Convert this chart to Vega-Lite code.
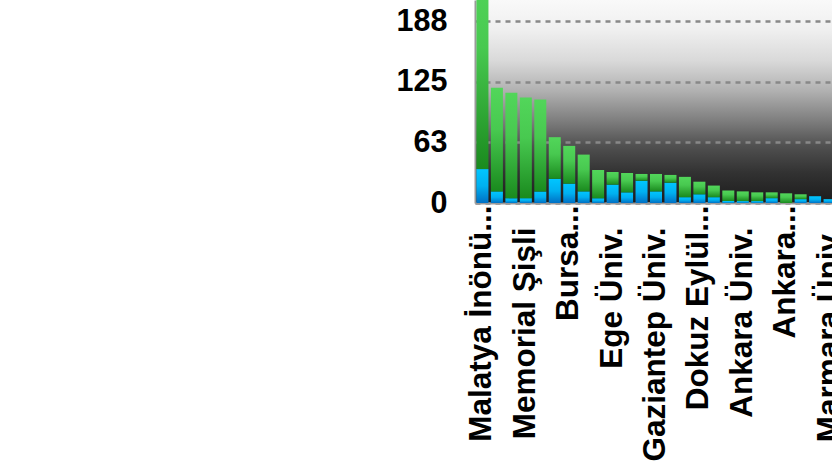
{
  "$schema": "https://vega.github.io/schema/vega-lite/v6.json",
  "autosize": "none",
  "width": 357,
  "height": 203,
  "padding": {"left": 475, "top": 0, "right": 0, "bottom": 273},
  "background": "white",
  "config": {
    "font": "Liberation Sans",
    "view": {
      "stroke": null,
      "fill": {
        "gradient": "linear", "x1": 0, "y1": 0, "x2": 0, "y2": 1,
        "stops": [
          {"offset": 0, "color": "#f9f9f9"},
          {"offset": 0.15, "color": "#efefef"},
          {"offset": 0.3, "color": "#d9d9d9"},
          {"offset": 0.45, "color": "#b0b0b0"},
          {"offset": 0.6, "color": "#7c7c7c"},
          {"offset": 0.72, "color": "#505050"},
          {"offset": 0.85, "color": "#323232"},
          {"offset": 1, "color": "#1c1c1c"}
        ]
      }
    }
  },
  "data": {
    "values": [
      {"name": "Malatya İnönü...", "blue": 35, "total": 245},
      {"name": "Hastane 2", "blue": 12, "total": 119},
      {"name": "Hastane 3", "blue": 5, "total": 114},
      {"name": "Memorial Şişli", "blue": 5, "total": 109},
      {"name": "Hastane 5", "blue": 12, "total": 107},
      {"name": "Hastane 6", "blue": 25, "total": 68},
      {"name": "Bursa...", "blue": 20, "total": 59},
      {"name": "Hastane 8", "blue": 12, "total": 50},
      {"name": "Hastane 9", "blue": 5, "total": 34},
      {"name": "Ege Üniv.", "blue": 19, "total": 32},
      {"name": "Hastane 11", "blue": 11, "total": 31},
      {"name": "Hastane 12", "blue": 23, "total": 30},
      {"name": "Gaziantep Üniv.", "blue": 12, "total": 30},
      {"name": "Hastane 14", "blue": 21, "total": 29},
      {"name": "Hastane 15", "blue": 6, "total": 27},
      {"name": "Dokuz Eylül...", "blue": 9, "total": 22},
      {"name": "Hastane 17", "blue": 6, "total": 18},
      {"name": "Hastane 18", "blue": 2, "total": 13},
      {"name": "Ankara Üniv.", "blue": 2, "total": 12},
      {"name": "Hastane 20", "blue": 2, "total": 11},
      {"name": "Hastane 21", "blue": 5, "total": 11},
      {"name": "Ankara...", "blue": 0, "total": 10},
      {"name": "Hastane 23", "blue": 4, "total": 9},
      {"name": "Hastane 24", "blue": 7, "total": 7},
      {"name": "Marmara Üniv.", "blue": 4, "total": 4}
    ]
  },
  "encoding": {
    "x": {
      "field": "name", "type": "nominal", "sort": null,
      "scale": {"range": [0, 362], "paddingInner": 0.17, "paddingOuter": 0.1},
      "axis": {
        "title": null,
        "values": ["Malatya İnönü...", "Memorial Şişli", "Bursa...", "Ege Üniv.", "Gaziantep Üniv.", "Dokuz Eylül...", "Ankara Üniv.", "Ankara...", "Marmara Üniv."],
        "labelAngle": -90,
        "labelFontSize": 31.5,
        "labelFontWeight": "bold",
        "labelColor": "#000000",
        "labelPadding": {"condition": {"test": "indexof(datum.value, '...') >= 0", "value": 2}, "value": 24},
        "labelLimit": 1000,
        "labelOverlap": false,
        "ticks": false,
        "domainColor": "#9a9a9a",
        "domainWidth": 2,
        "grid": false
      }
    }
  },
  "layer": [
    {
      "mark": {
        "type": "bar", "clip": true,
        "color": {
          "gradient": "linear", "x1": 0, "y1": 0, "x2": 0, "y2": 1,
          "stops": [
            {"offset": 0, "color": "#00c6ff"},
            {"offset": 0.5, "color": "#00b0f0"},
            {"offset": 1, "color": "#0070c4"}
          ]
        }
      },
      "encoding": {
        "y": {
          "field": "blue", "type": "quantitative",
          "scale": {"domain": [0, 209.7], "nice": false, "zero": true},
          "axis": {
            "title": null,
            "values": [0, 62.5, 125, 187.5],
            "format": ".0f",
            "labelFontSize": 30.5,
            "labelFontWeight": "bold",
            "labelColor": "#000000",
            "labelPadding": 28,
            "ticks": false,
            "domainColor": "#9a9a9a",
            "domainWidth": 2,
            "grid": true,
            "gridColor": "#888888",
            "gridWidth": 2.5,
            "gridDash": [5, 5]
          }
        }
      }
    },
    {
      "mark": {
        "type": "bar", "clip": true,
        "color": {
          "gradient": "linear", "x1": 0, "y1": 0, "x2": 0, "y2": 1,
          "stops": [
            {"offset": 0, "color": "#52d65a"},
            {"offset": 0.4, "color": "#48c950"},
            {"offset": 1, "color": "#1a8a1e"}
          ]
        }
      },
      "encoding": {
        "y": {"field": "total", "type": "quantitative"},
        "y2": {"field": "blue"}
      }
    }
  ]
}
